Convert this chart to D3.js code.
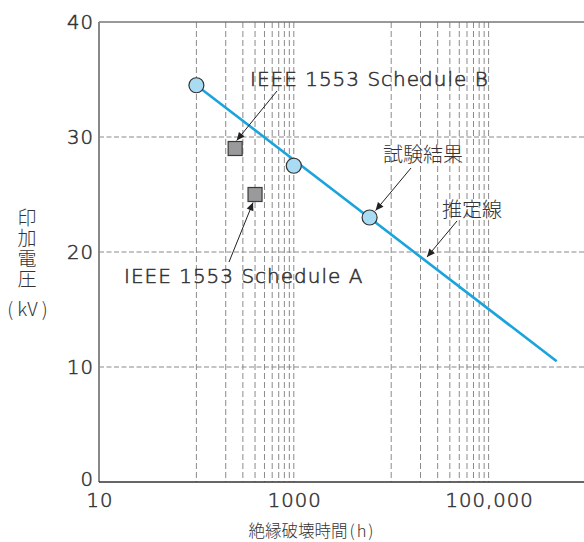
<!DOCTYPE html>
<html>
<head>
<meta charset="utf-8">
<script src="https://cdn.jsdelivr.net/npm/d3@7"></script>
<style>
  html, body { margin: 0; padding: 0; background: #fff; }
  svg { display: block; }
  .lat { font-family: "DejaVu Sans", sans-serif; font-weight: 300; fill: #333;
         stroke: #333; stroke-width: 0.55px; letter-spacing: 1px; }
  .jp { font-family: "Noto Sans CJK JP", sans-serif; font-weight: 300; fill: #333; }
</style>
</head>
<body>
<svg id="chart" width="584" height="542"></svg>
<script>
// Breakdown test results (hours to failure vs. applied voltage)
const testHours = [100, 1000, 6000];
const testKV = [34.5, 27.5, 23];

// Reference points from IEEE 1553
const ieeeLabels = ["IEEE 1553 Schedule B", "IEEE 1553 Schedule A"];
const ieeeHours = [250, 400];
const ieeeKV = [29, 25];

// Estimated life line
const fitHours = [100, 500000];
const fitKV = [34.5, 10.5];

// Axis ticks
const xTicks = [10, 1000, 100000];
const xTickLabels = ["10", "1000", "100,000"];
const yTicks = [0, 10, 20, 30, 40];
const yGrid = [10, 20, 30];
// Minor log grid lines (100–1000 and 10,000–100,000 decades)
const xGrid = [100, 200, 300, 400, 500, 600, 700, 800, 900, 1000,
               10000, 20000, 30000, 40000, 50000, 60000, 70000, 80000, 90000, 100000];

const yTitle = "印加電圧";
const yUnit = "kV";
const xTitle = "絶縁破壊時間";
const xUnit = "h";

const svg = d3.select("#chart");
const plotL = 99, plotR = 586, plotT = 22, plotB = 482;

const x = d3.scaleLog().domain([10, 1e6]).range([plotL, plotR]);
const y = d3.scaleLinear().domain([0, 40]).range([plotB, plotT]);

// arrowhead marker
svg.append("defs").append("marker")
  .attr("id", "arr").attr("viewBox", "0 0 10 10")
  .attr("refX", 10).attr("refY", 5)
  .attr("markerWidth", 10).attr("markerHeight", 8)
  .attr("markerUnits", "userSpaceOnUse")
  .attr("orient", "auto")
  .append("path").attr("d", "M0,0.5 L10,5 L0,9.5 Z").attr("fill", "#222");

// grid
const g = svg.append("g");
g.selectAll(".vg").data(xGrid).join("line")
  .attr("x1", d => x(d)).attr("x2", d => x(d))
  .attr("y1", plotT).attr("y2", plotB)
  .attr("stroke", "#8a8a8a").attr("stroke-width", 1)
  .attr("stroke-dasharray", "6,3");
g.selectAll(".hg").data(yGrid).join("line")
  .attr("x1", plotL).attr("x2", 584)
  .attr("y1", d => y(d)).attr("y2", d => y(d))
  .attr("stroke", "#8a8a8a").attr("stroke-width", 1.2)
  .attr("stroke-dasharray", "5,2.5");

// frame
svg.append("line").attr("x1", plotL).attr("x2", 584).attr("y1", plotT).attr("y2", plotT)
  .attr("stroke", "#777").attr("stroke-width", 1.5);
svg.append("line").attr("x1", plotL).attr("x2", plotL).attr("y1", plotT).attr("y2", plotB)
  .attr("stroke", "#888").attr("stroke-width", 2);
svg.append("line").attr("x1", plotL).attr("x2", 584).attr("y1", plotB).attr("y2", plotB)
  .attr("stroke", "#333").attr("stroke-width", 1.5);

// tick labels
svg.selectAll(".yt").data(yTicks).join("text")
  .attr("class", "lat")
  .attr("x", 94).attr("y", d => y(d) - (d === 0 ? 3 : 0))
  .attr("text-anchor", "end").attr("dominant-baseline", "central")
  .attr("font-size", 19.6)
  .text(d => d);
svg.selectAll(".xt").data(xTicks).join("text")
  .attr("class", "lat")
  .attr("x", d => x(d) + 1).attr("y", 500)
  .attr("text-anchor", "middle").attr("dominant-baseline", "central")
  .attr("font-size", 19.6)
  .text((d, i) => xTickLabels[i]);

// axis titles
svg.append("text").attr("class", "jp")
  .attr("x", 27).attr("y", 208)
  .style("writing-mode", "vertical-rl")
  .attr("letter-spacing", 1.5)
  .attr("font-size", 19).text(yTitle);
const yu = svg.append("text").attr("class", "jp")
  .attr("x", 27.5).attr("y", 307)
  .attr("text-anchor", "middle").attr("dominant-baseline", "central")
  .attr("font-size", 19);
yu.append("tspan").text("(");
yu.append("tspan").attr("dx", 4).text(yUnit);
yu.append("tspan").attr("dx", 4).text(")");
const xt = svg.append("text").attr("class", "jp")
  .attr("x", 311).attr("y", 530)
  .attr("text-anchor", "middle").attr("dominant-baseline", "central")
  .attr("font-size", 16.5);
xt.append("tspan").text(xTitle);
xt.append("tspan").attr("dx", 2).text("(");
xt.append("tspan").attr("dx", 2).text(xUnit);
xt.append("tspan").attr("dx", 2).text(")");

// estimated line
const line = d3.line().x((d, i) => x(fitHours[i])).y(d => y(d));
svg.append("path").datum(fitKV)
  .attr("d", line).attr("fill", "none")
  .attr("stroke", "#1aa3dd").attr("stroke-width", 2.6);

// IEEE squares
const sq = 14;
svg.selectAll(".sq").data(ieeeHours).join("rect")
  .attr("x", d => x(d) - sq / 2).attr("y", (d, i) => y(ieeeKV[i]) - sq / 2)
  .attr("width", sq).attr("height", sq)
  .attr("fill", "#9a9a9c").attr("stroke", "#3a3a3a").attr("stroke-width", 1.2);

// test circles
svg.selectAll(".pt").data(testHours).join("circle")
  .attr("cx", d => x(d)).attr("cy", (d, i) => y(testKV[i]))
  .attr("r", 7.5)
  .attr("fill", "#a9dbf3").attr("stroke", "#333").attr("stroke-width", 1.2);

// annotations
function arrow(x1, y1, x2, y2) {
  svg.append("line").attr("x1", x1).attr("y1", y1).attr("x2", x2).attr("y2", y2)
    .attr("stroke", "#222").attr("stroke-width", 1)
    .attr("marker-end", "url(#arr)");
}
const bx = x(ieeeHours[0]), by = y(ieeeKV[0]);
const ax = x(ieeeHours[1]), ay = y(ieeeKV[1]);
const cx = x(testHours[2]), cy = y(testKV[2]);

svg.append("text").attr("class", "lat")
  .attr("x", 250).attr("y", 86).attr("font-size", 20)
  .text(ieeeLabels[0]);
arrow(277, 91, bx + 1.5, by - 8);

svg.append("text").attr("class", "lat")
  .attr("x", 124).attr("y", 283).attr("font-size", 20)
  .text(ieeeLabels[1]);
arrow(229, 262, ax - 2, ay + 8);

svg.append("text").attr("class", "jp")
  .attr("x", 383).attr("y", 153).attr("dominant-baseline", "central")
  .attr("font-size", 20).text("試験結果");
arrow(411, 168, cx + 6, cy - 7);

svg.append("text").attr("class", "jp")
  .attr("x", 442).attr("y", 208).attr("dominant-baseline", "central")
  .attr("font-size", 20).text("推定線");
arrow(457, 221, 427, 257);
</script>
</body>
</html>
